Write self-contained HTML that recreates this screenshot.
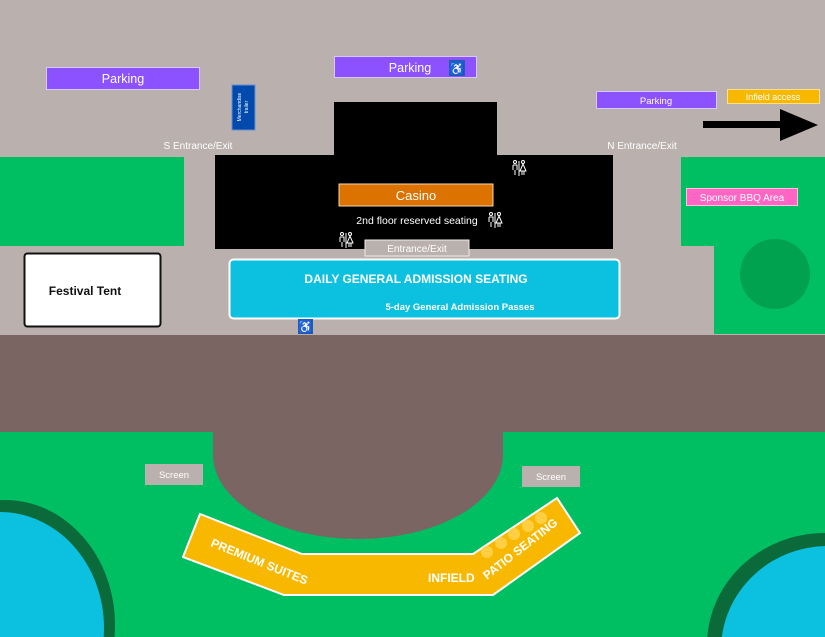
<!DOCTYPE html>
<html><head><meta charset="utf-8"><style>
html,body{margin:0;padding:0;background:#bab0ae;width:825px;height:637px;overflow:hidden}
svg{display:block}
text{font-family:"Liberation Sans",sans-serif}
</style></head><body>
<svg width="825" height="637" viewBox="0 0 825 637" xmlns="http://www.w3.org/2000/svg">
<defs>
<g id="wc" fill="none" stroke="#fff" stroke-width="1">
<circle cx="3" cy="2" r="1.5"/><path d="M1 5h4v5M3 10v5M1 5v5"/>
<line x1="7" y1="1" x2="7" y2="16"/>
<circle cx="11" cy="2" r="1.5"/><path d="M11 4l-3 7h6z M10 11v4M12 11v4"/>
</g>
</defs>
<rect width="825" height="637" fill="#bab0ae"/>
<rect x="0" y="157" width="184" height="89" fill="#00bf63"/>
<rect x="681" y="157" width="144" height="89" fill="#00bf63"/>
<rect x="714" y="246" width="111" height="88" fill="#00bf63"/>
<circle cx="775" cy="274" r="35" fill="#00a14f"/>
<rect x="0" y="335" width="825" height="97" fill="#7a6562"/>
<rect x="0" y="432" width="825" height="205" fill="#00bf63"/>
<path d="M213 432 L503 432 L503 455 A145 84 0 0 1 213 455 Z" fill="#7a6562"/>
<ellipse cx="5" cy="625" rx="110" ry="125" fill="#0a6a3a"/>
<ellipse cx="0" cy="628" rx="104" ry="116" fill="#0cc0df"/>
<ellipse cx="825" cy="645" rx="118" ry="112" fill="#0a6a3a"/>
<ellipse cx="828" cy="650" rx="107" ry="104" fill="#0cc0df"/>
<rect x="334" y="102" width="163" height="55" fill="#000"/>
<rect x="215" y="155" width="398" height="94" fill="#000"/>
<rect x="339" y="184" width="154" height="22" fill="#dc7200" stroke="#f5d8b0" stroke-width="1"/>
<text x="416" y="200" font-size="13" fill="#fff" text-anchor="middle">Casino</text>
<text x="417" y="224" font-size="10.5" fill="#fff" text-anchor="middle">2nd floor reserved seating</text>
<use href="#wc" x="488" y="212"/>
<use href="#wc" x="512" y="160"/>
<use href="#wc" x="339" y="232"/>
<rect x="365" y="240" width="104" height="16" fill="#bab0ae" stroke="#eee" stroke-width="1"/>
<text x="417" y="252" font-size="10" fill="#fff" text-anchor="middle">Entrance/Exit</text>
<rect x="229.5" y="259.5" width="390" height="59" rx="4" fill="#0cc0df" stroke="#fff" stroke-width="2"/>
<text x="416" y="283" font-size="12" font-weight="bold" fill="#fff" text-anchor="middle">DAILY GENERAL ADMISSION SEATING</text>
<text x="460" y="310" font-size="9.5" font-weight="bold" fill="#fff" text-anchor="middle">5-day General Admission Passes</text>
<rect x="298" y="319" width="15" height="15" fill="#1d5fb8"/>
<text x="305.5" y="331" font-size="12" fill="#fff" text-anchor="middle">♿</text>
<rect x="24.5" y="253.5" width="136" height="73" rx="3" fill="#fff" stroke="#111" stroke-width="2"/>
<text x="85" y="295" font-size="12" font-weight="bold" fill="#111" text-anchor="middle">Festival Tent</text>
<rect x="46.5" y="67.5" width="153" height="22" fill="#8c52ff" stroke="#d8c8ff"/>
<text x="123" y="83" font-size="12.5" fill="#fff" text-anchor="middle">Parking</text>
<rect x="334.5" y="56.5" width="142" height="21" fill="#8c52ff" stroke="#d8c8ff"/>
<text x="410" y="72" font-size="12.5" fill="#fff" text-anchor="middle">Parking</text>
<rect x="449" y="60" width="16" height="16" fill="#1d5fb8"/>
<text x="457" y="73" font-size="12" fill="#fff" text-anchor="middle">♿</text>
<rect x="596.5" y="91.5" width="120" height="17" fill="#8c52ff" stroke="#d8c8ff"/>
<text x="656" y="104" font-size="9.5" fill="#fff" text-anchor="middle">Parking</text>
<rect x="727.5" y="89.5" width="92" height="14" fill="#f9b800" stroke="#ffe08a"/>
<text x="773" y="100" font-size="9" fill="#fff" text-anchor="middle">Infield access</text>
<rect x="232" y="85" width="23" height="45" fill="#004aad" stroke="#6b8fd0"/>
<text transform="translate(241,107) rotate(-90)" font-size="5" fill="#fff" text-anchor="middle">Merchandise</text>
<text transform="translate(248,107) rotate(-90)" font-size="5" fill="#fff" text-anchor="middle">trailer</text>
<text x="198" y="149" font-size="10" fill="#fff" text-anchor="middle">S Entrance/Exit</text>
<text x="642" y="149" font-size="10" fill="#fff" text-anchor="middle">N Entrance/Exit</text>
<rect x="703" y="121" width="80" height="7" fill="#000"/>
<polygon points="780,109 818,125 780,141" fill="#000"/>
<rect x="686.5" y="188.5" width="111" height="17" fill="#ff66c4" stroke="#ffc0e6"/>
<text x="742" y="201" font-size="10" fill="#fff" text-anchor="middle">Sponsor BBQ Area</text>
<rect x="145" y="464" width="58" height="21" fill="#bab0ae"/>
<text x="174" y="478" font-size="9.5" fill="#fff" text-anchor="middle">Screen</text>
<rect x="522" y="466" width="58" height="21" fill="#bab0ae"/>
<text x="551" y="480" font-size="9.5" fill="#fff" text-anchor="middle">Screen</text>
<polygon points="200,514 183,557 284,595 493,595 580,533 557,498 473,554 302,554" fill="#f9b800" stroke="#fff" stroke-width="2"/>
<g fill="#ffd24a" opacity="0.9">
<circle cx="487" cy="552" r="6"/><circle cx="501" cy="543" r="6"/><circle cx="514" cy="534" r="6"/><circle cx="528" cy="526" r="6"/><circle cx="541" cy="518" r="6"/>
</g>
<text transform="translate(210,546) rotate(22)" font-size="12" font-weight="bold" fill="#fff">PREMIUM SUITES</text>
<text x="428" y="582" font-size="12" font-weight="bold" fill="#fff">INFIELD</text>
<text transform="translate(487,580) rotate(-38)" font-size="12" font-weight="bold" fill="#fff">PATIO SEATING</text>
</svg>
</body></html>
